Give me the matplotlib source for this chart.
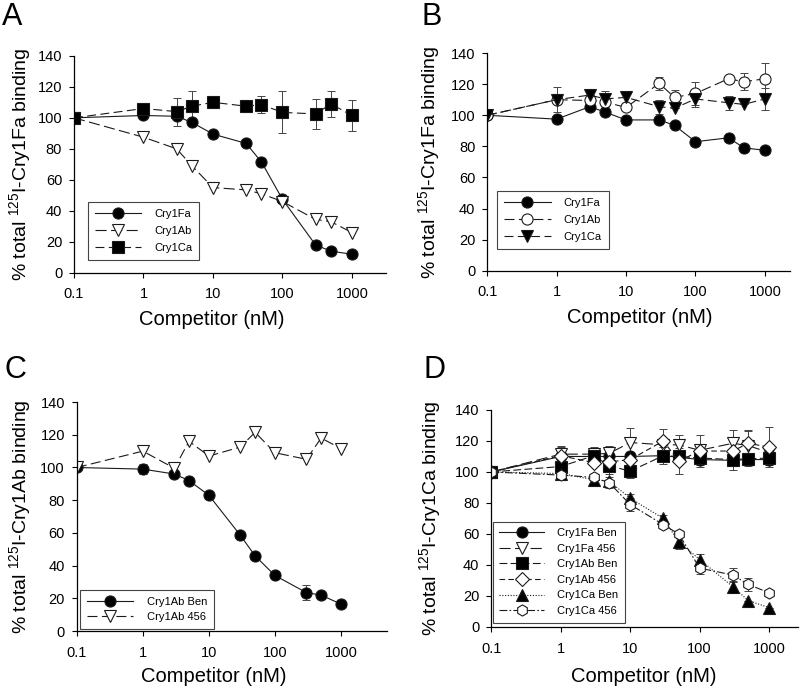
import numpy as np
import matplotlib
matplotlib.use("Agg")
import matplotlib.pyplot as plt
from matplotlib.ticker import FixedLocator, FixedFormatter

plt.rcParams['font.family'] = ['Liberation Sans', 'DejaVu Sans']
plt.rcParams['mathtext.fontset'] = 'custom'
plt.rcParams['mathtext.rm'] = 'Liberation Sans'
plt.rcParams['mathtext.it'] = 'Liberation Sans:italic'

# competitor concentrations (nM)
conc = [0.1, 1, 3, 5, 10, 30, 50, 100, 300, 500, 1000]

# panel A: 125I-Cry1Fa binding
a_fa = [100, 101.5, 101, 97, 89.5, 83.5, 71.5, 47.5, 18, 14, 12]
a_ab = [100, 87.5, 80, 69, 55, 53.5, 51, 46, 34.5, 33, 26]
a_ca = [100, 106, 104, 107.5, 110, 107.5, 108.5, 103.5, 102.5, 109, 101.5]
a_ca_err = [0, 0, 9, 9.5, 0, 0, 5.5, 13.5, 9.5, 8.5, 10]

# panel B: 125I-Cry1Fa binding
b_fa = [100, 97.5, 105.5, 102, 97, 97, 93.5, 83, 85.5, 79, 77.5]
b_ab = [100, 110, 109.5, 108.5, 105, 120.5, 111.5, 114, 123.5, 121.5, 123.5]
b_ab_err = [0, 8, 0, 0, 0, 4.3, 4.7, 7.4, 0, 5.5, 10.3]
b_ca = [100, 110, 113, 110.5, 111.5, 105.5, 104.5, 110.5, 108, 107, 110.5]
b_ca_err = [0, 0, 0, 5, 3.3, 4.4, 0, 5, 4.6, 0, 7]

# panel C: 125I-Cry1Ab binding
c_ben = [100, 99, 96, 92, 83, 58.5, 46, 34, 23.5, 22, 16.5]
c_ben_err = [0, 3, 0, 0, 0, 0, 0, 0, 4.5, 0, 0]
c_456 = [100, 110, 99.5, 116, 107, 112.5, 121.5, 109, 105, 118, 111.5]

# panel D: 125I-Cry1Ca binding
d_fa_ben = [100, 110, 110, 110, 110, 110.5, 109.5, 108, 107.5, 108, 108]
d_fa_ben_err = [0, 0, 0, 0, 0, 5.5, 0, 3.5, 6.5, 4, 3.5]
d_fa_456 = [100, 111.5, 111.5, 112, 119, 117.5, 117.5, 114, 118.5, 117, 112.5]
d_fa_456_err = [0, 5, 4.5, 5, 9.5, 0, 6.5, 0, 8.5, 10, 0]
d_ab_ben = [100, 103.5, 110.5, 104, 100.5, 110.5, 110, 109, 108, 108.5, 109]
d_ab_ben_err = [0, 6, 0, 5, 4.5, 0, 0, 0, 0, 0, 0]
d_ab_456 = [100, 110.5, 106, 106.5, 108, 120, 107, 113.5, 113.5, 118.5, 116]
d_ab_456_err = [0, 5.5, 0, 4, 0, 7.5, 8.5, 10.5, 0, 8, 13]
d_ca_ben = [100, 99, 95, 94, 83, 70, 55, 43.5, 26, 17, 12.5]
d_ca_ben_err = [0, 0, 3.5, 0, 2.5, 2.5, 4.5, 3.5, 3.5, 0, 0]
d_ca_456 = [100, 98, 96.5, 93, 79, 66, 60, 38, 33.5, 27.5, 22]
d_ca_456_err = [0, 3.5, 0, 3.5, 4, 0, 0, 3.5, 4.5, 4, 0]

xticks = [0.1, 1, 10, 100, 1000]
xtick_labels = ['0.1', '1', '10', '100', '1000']
yticks = [0, 20, 40, 60, 80, 100, 120, 140]

fig = plt.figure(figsize=(8, 6.89), dpi=100)

axA = fig.add_axes([0.0925, 0.604, 0.39, 0.315])
axB = fig.add_axes([0.609, 0.607, 0.3785, 0.316])
axC = fig.add_axes([0.096, 0.084, 0.388, 0.3325])
axD = fig.add_axes([0.614, 0.090, 0.3835, 0.315])

LW = 0.8
MS = 8


def series(ax, y, err, label, marker, mfc, dashes, ms=MS):
    # error bars first (no legend entry), then line + markers on top
    if err is not None:
        ax.errorbar(conc, y, yerr=err, fmt='none', ecolor='#444444',
                    elinewidth=0.7, capsize=3, capthick=0.7, zorder=1.5)
    ax.plot(conc, y, label=label, color='#1a1a1a', lw=LW, marker=marker,
            ms=ms, mfc=mfc, mec='#1a1a1a', mew=0.8, dashes=dashes)


def style(ax, ylab, xmax, xl, yl):
    ax.set_xscale('log')
    ax.set_xlim(0.1, xmax)
    ax.set_ylim(0, 140)
    for s in ['top', 'right']:
        ax.spines[s].set_visible(False)
    for s in ['left', 'bottom']:
        ax.spines[s].set_linewidth(0.9)
    ax.xaxis.set_major_locator(FixedLocator(xticks))
    ax.xaxis.set_major_formatter(FixedFormatter(xtick_labels))
    ax.xaxis.set_minor_locator(FixedLocator([]))
    ax.set_yticks(yticks)
    ax.tick_params(direction='out', length=3.5, width=0.8, labelsize=10.5)
    ax.tick_params(axis='x', pad=7)
    ax.tick_params(axis='y', pad=5)
    ax.set_xlabel('Competitor (nM)', fontsize=14.5)
    ax.set_ylabel('% total $^{125}$I-' + ylab + ' binding', fontsize=14)
    ax.xaxis.set_label_coords(xl[0], xl[1])
    ax.yaxis.set_label_coords(yl, 0.5)


def legend(ax, anchor, hl=4.2, sp=0.65):
    leg = ax.legend(loc='lower left', bbox_to_anchor=anchor, fontsize=8,
                    handlelength=hl, handletextpad=1.2, labelspacing=sp,
                    borderpad=0.6, fancybox=False, edgecolor='#444444',
                    framealpha=1, borderaxespad=0)
    leg.get_frame().set_linewidth(0.8)


solid = (None, None)
# panel A
series(axA, a_fa, None, 'Cry1Fa', 'o', 'black', solid)
series(axA, a_ab, None, 'Cry1Ab', 'v', 'white', (10, 4))
series(axA, a_ca, a_ca_err, 'Cry1Ca', 's', 'black', (8, 4))
style(axA, 'Cry1Fa', 3100, (0.442, -0.17), -0.13)
legend(axA, (0.045, 0.06))

# panel B
series(axB, b_fa, None, 'Cry1Fa', 'o', 'black', solid)
series(axB, b_ab, b_ab_err, 'Cry1Ab', 'o', 'white', (9, 4))
series(axB, b_ca, b_ca_err, 'Cry1Ca', 'v', 'black', (8, 4))
style(axB, 'Cry1Fa', 2300, (0.505, -0.17), -0.148)
legend(axB, (0.033, 0.1))

# panel C
series(axC, c_ben, c_ben_err, 'Cry1Ab Ben', 'o', 'black', solid)
series(axC, c_456, None, 'Cry1Ab 456', 'v', 'white', (9, 4))
style(axC, 'Cry1Ab', 5000, (0.44, -0.157), -0.142)
legend(axC, (0.01, 0.01), hl=4.2, sp=0.5)

# panel D
series(axD, d_fa_ben, d_fa_ben_err, 'Cry1Fa Ben', 'o', 'black', solid)
series(axD, d_fa_456, d_fa_456_err, 'Cry1Fa 456', 'v', 'white', (10, 4))
series(axD, d_ab_ben, d_ab_ben_err, 'Cry1Ab Ben', 's', 'black', (7, 3))
series(axD, d_ab_456, d_ab_456_err, 'Cry1Ab 456', 'D', 'white', (5, 3), ms=7.5)
series(axD, d_ca_ben, d_ca_ben_err, 'Cry1Ca Ben', '^', 'black', (1, 1.5))
series(axD, d_ca_456, d_ca_456_err, 'Cry1Ca 456', 'h', 'white', (7, 2, 1.5, 2))
style(axD, 'Cry1Ca', 2600, (0.498, -0.184), -0.156)
legend(axD, (0.005, 0.02), hl=4.0, sp=0.5)

# panel letters
fig.text(0.003, 0.997, 'A', fontsize=22, va='top', ha='left')
fig.text(0.527, 0.997, 'B', fontsize=22, va='top', ha='left')
fig.text(0.005, 0.485, 'C', fontsize=22, va='top', ha='left')
fig.text(0.530, 0.485, 'D', fontsize=22, va='top', ha='left')

fig.savefig('out.png', dpi=100)
